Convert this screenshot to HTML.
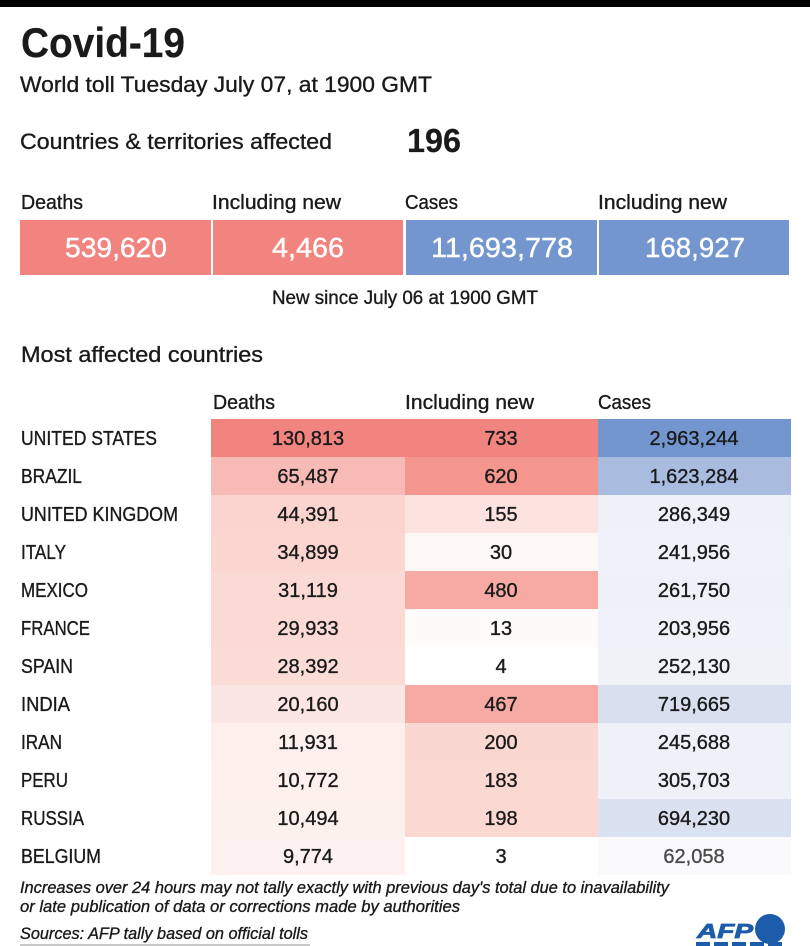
<!DOCTYPE html>
<html>
<head>
<meta charset="utf-8">
<style>
  html, body { margin: 0; padding: 0; background: #ffffff; }
  svg { display: block; }
  text { font-family: "Liberation Sans", sans-serif; fill: #1a1a1a; stroke: #1a1a1a; stroke-width: 0.35; }
  text.w { fill: #ffffff; stroke: #ffffff; stroke-width: 0.4; }
  text.b { stroke-width: 0.2; }
</style>
</head>
<body>
<svg width="810" height="946" viewBox="0 0 810 946" xmlns="http://www.w3.org/2000/svg">
  <rect x="0" y="0" width="810" height="946" fill="#ffffff"/>
  <rect x="0" y="0" width="810" height="7" fill="#000000"/>

  <!-- Title -->
  <text class="b" x="21" y="57" font-size="42" font-weight="bold" textLength="164" lengthAdjust="spacingAndGlyphs">Covid-19</text>
  <text x="20" y="92" font-size="22" textLength="412" lengthAdjust="spacingAndGlyphs">World toll Tuesday July 07, at 1900 GMT</text>

  <text x="20" y="149" font-size="22" textLength="312" lengthAdjust="spacingAndGlyphs">Countries &amp; territories affected</text>
  <text class="b" x="407" y="152" font-size="33" font-weight="bold" textLength="54" lengthAdjust="spacingAndGlyphs">196</text>

  <!-- Summary headers -->
  <text x="21" y="209" font-size="20" textLength="62" lengthAdjust="spacingAndGlyphs">Deaths</text>
  <text x="212" y="209" font-size="20" textLength="129" lengthAdjust="spacingAndGlyphs">Including new</text>
  <text x="405" y="209" font-size="20" textLength="53" lengthAdjust="spacingAndGlyphs">Cases</text>
  <text x="598" y="209" font-size="20" textLength="129" lengthAdjust="spacingAndGlyphs">Including new</text>

  <!-- Summary boxes -->
  <rect x="20" y="220" width="191" height="55" fill="#f2847f"/>
  <rect x="213" y="220" width="190" height="55" fill="#f2847f"/>
  <rect x="406" y="220" width="191" height="55" fill="#7396cf"/>
  <rect x="599" y="220" width="190" height="55" fill="#7396cf"/>
  <g font-size="28" text-anchor="middle">
    <text class="w" x="116" y="257" textLength="102" lengthAdjust="spacingAndGlyphs">539,620</text>
    <text class="w" x="308" y="257" textLength="72" lengthAdjust="spacingAndGlyphs">4,466</text>
    <text class="w" x="502" y="257" textLength="142" lengthAdjust="spacingAndGlyphs">11,693,778</text>
    <text class="w" x="695" y="257" textLength="100" lengthAdjust="spacingAndGlyphs">168,927</text>
  </g>

  <text x="272" y="304" font-size="19" textLength="266" lengthAdjust="spacingAndGlyphs">New since July 06 at 1900 GMT</text>

  <text x="21" y="362" font-size="22" textLength="242" lengthAdjust="spacingAndGlyphs">Most affected countries</text>

  <!-- Table headers -->
  <text x="213" y="409" font-size="20" textLength="62" lengthAdjust="spacingAndGlyphs">Deaths</text>
  <text x="405" y="409" font-size="20" textLength="129" lengthAdjust="spacingAndGlyphs">Including new</text>
  <text x="598" y="409" font-size="20" textLength="53" lengthAdjust="spacingAndGlyphs">Cases</text>

  <!-- Table cells -->
  <g>
    <rect x="211" y="419" width="194" height="38" fill="#f2847f"/>
    <rect x="405" y="419" width="193" height="38" fill="#f2847f"/>
    <rect x="598" y="419" width="193" height="38" fill="#7396cf"/>

    <rect x="211" y="457" width="194" height="38" fill="#f7bab4"/>
    <rect x="405" y="457" width="193" height="38" fill="#f4958e"/>
    <rect x="598" y="457" width="193" height="38" fill="#aabbe0"/>

    <rect x="211" y="495" width="194" height="38" fill="#fbd4cf"/>
    <rect x="405" y="495" width="193" height="38" fill="#fde3df"/>
    <rect x="598" y="495" width="193" height="38" fill="#eef1f8"/>

    <rect x="211" y="533" width="194" height="38" fill="#fbd6d1"/>
    <rect x="405" y="533" width="193" height="38" fill="#fcf8f6"/>
    <rect x="598" y="533" width="193" height="38" fill="#eff2f8"/>

    <rect x="211" y="571" width="194" height="38" fill="#fbd9d4"/>
    <rect x="405" y="571" width="193" height="38" fill="#f7aaa3"/>
    <rect x="598" y="571" width="193" height="38" fill="#eef1f8"/>

    <rect x="211" y="609" width="194" height="38" fill="#fbdad5"/>
    <rect x="405" y="609" width="193" height="38" fill="#fefbfa"/>
    <rect x="598" y="609" width="193" height="38" fill="#eff2f8"/>

    <rect x="211" y="647" width="194" height="38" fill="#fbdcd7"/>
    <rect x="405" y="647" width="193" height="38" fill="#ffffff"/>
    <rect x="598" y="647" width="193" height="38" fill="#f0f2f8"/>

    <rect x="211" y="685" width="194" height="38" fill="#fce6e3"/>
    <rect x="405" y="685" width="193" height="38" fill="#f7aaa3"/>
    <rect x="598" y="685" width="193" height="38" fill="#d8dfef"/>

    <rect x="211" y="723" width="194" height="38" fill="#fdefec"/>
    <rect x="405" y="723" width="193" height="38" fill="#fbd7d1"/>
    <rect x="598" y="723" width="193" height="38" fill="#eef1f8"/>

    <rect x="211" y="761" width="194" height="38" fill="#fdf0ed"/>
    <rect x="405" y="761" width="193" height="38" fill="#fbd9d3"/>
    <rect x="598" y="761" width="193" height="38" fill="#eef1f8"/>

    <rect x="211" y="799" width="194" height="38" fill="#fdf1ee"/>
    <rect x="405" y="799" width="193" height="38" fill="#fbd8d2"/>
    <rect x="598" y="799" width="193" height="38" fill="#dae1f0"/>

    <rect x="211" y="837" width="194" height="38" fill="#fdf2f0"/>
    <rect x="405" y="837" width="193" height="38" fill="#ffffff"/>
    <rect x="598" y="837" width="193" height="38" fill="#fafafc"/>
  </g>

  <!-- Country names -->
  <g font-size="20">
    <text x="21" y="445" textLength="136" lengthAdjust="spacingAndGlyphs">UNITED STATES</text>
    <text x="21" y="483" textLength="61" lengthAdjust="spacingAndGlyphs">BRAZIL</text>
    <text x="21" y="521" textLength="157" lengthAdjust="spacingAndGlyphs">UNITED KINGDOM</text>
    <text x="21" y="559" textLength="45" lengthAdjust="spacingAndGlyphs">ITALY</text>
    <text x="21" y="597" textLength="67" lengthAdjust="spacingAndGlyphs">MEXICO</text>
    <text x="21" y="635" textLength="69" lengthAdjust="spacingAndGlyphs">FRANCE</text>
    <text x="21" y="673" textLength="52" lengthAdjust="spacingAndGlyphs">SPAIN</text>
    <text x="21" y="711" textLength="49" lengthAdjust="spacingAndGlyphs">INDIA</text>
    <text x="21" y="749" textLength="41" lengthAdjust="spacingAndGlyphs">IRAN</text>
    <text x="21" y="787" textLength="47" lengthAdjust="spacingAndGlyphs">PERU</text>
    <text x="21" y="825" textLength="63" lengthAdjust="spacingAndGlyphs">RUSSIA</text>
    <text x="21" y="863" textLength="80" lengthAdjust="spacingAndGlyphs">BELGIUM</text>
  </g>

  <!-- Numbers -->
  <g font-size="20" text-anchor="middle">
    <text x="308" y="445">130,813</text>
    <text x="501" y="445">733</text>
    <text x="694" y="445">2,963,244</text>

    <text x="308" y="483">65,487</text>
    <text x="501" y="483">620</text>
    <text x="694" y="483">1,623,284</text>

    <text x="308" y="521">44,391</text>
    <text x="501" y="521">155</text>
    <text x="694" y="521">286,349</text>

    <text x="308" y="559">34,899</text>
    <text x="501" y="559">30</text>
    <text x="694" y="559">241,956</text>

    <text x="308" y="597">31,119</text>
    <text x="501" y="597">480</text>
    <text x="694" y="597">261,750</text>

    <text x="308" y="635">29,933</text>
    <text x="501" y="635">13</text>
    <text x="694" y="635">203,956</text>

    <text x="308" y="673">28,392</text>
    <text x="501" y="673">4</text>
    <text x="694" y="673">252,130</text>

    <text x="308" y="711">20,160</text>
    <text x="501" y="711">467</text>
    <text x="694" y="711">719,665</text>

    <text x="308" y="749">11,931</text>
    <text x="501" y="749">200</text>
    <text x="694" y="749">245,688</text>

    <text x="308" y="787">10,772</text>
    <text x="501" y="787">183</text>
    <text x="694" y="787">305,703</text>

    <text x="308" y="825">10,494</text>
    <text x="501" y="825">198</text>
    <text x="694" y="825">694,230</text>

    <text x="308" y="863">9,774</text>
    <text x="501" y="863">3</text>
    <text x="694" y="863" style="fill:#4a4a4a;stroke:#4a4a4a">62,058</text>
  </g>

  <!-- Footnotes -->
  <g font-size="17" font-style="italic">
    <text x="20" y="893" textLength="649" lengthAdjust="spacingAndGlyphs">Increases over 24 hours may not tally exactly with previous day's total due to inavailability</text>
    <text x="20" y="912" textLength="440" lengthAdjust="spacingAndGlyphs">or late publication of data or corrections made by authorities</text>
    <text x="20" y="939" textLength="288" lengthAdjust="spacingAndGlyphs">Sources: AFP tally based on official tolls</text>
  </g>
  <rect x="20" y="944" width="290" height="2" fill="#c8c8c8"/>

  <!-- AFP logo -->
  <text x="697" y="938" font-size="20" font-weight="bold" font-style="italic" textLength="56" lengthAdjust="spacingAndGlyphs" style="fill:#1d5cab;stroke:#1d5cab;stroke-width:0.8">AFP</text>
  <circle cx="770" cy="929" r="15" fill="#1d5cab"/>
  <rect x="696" y="942" width="14" height="4" fill="#1d5cab"/>
  <rect x="714" y="942" width="14" height="4" fill="#1d5cab"/>
  <rect x="732" y="942" width="14" height="4" fill="#1d5cab"/>
  <rect x="750" y="942" width="14" height="4" fill="#1d5cab"/>
  <rect x="768" y="942" width="14" height="4" fill="#1d5cab"/>
</svg>
</body>
</html>
